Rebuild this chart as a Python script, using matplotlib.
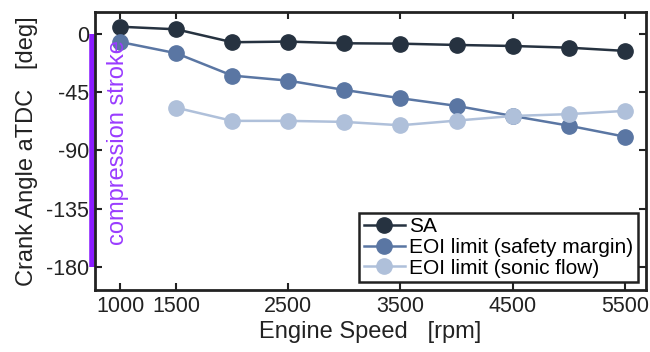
import matplotlib
matplotlib.use('Agg')
import matplotlib.pyplot as plt

plt.rcParams['font.family'] = ['Liberation Sans', 'DejaVu Sans']

speed = [1000, 1500, 2000, 2500, 3000, 3500, 4000, 4500, 5000, 5500]
sa = [5.6, 3.6, -6.4, -5.9, -7.2, -7.5, -8.5, -9.3, -10.6, -13.1]
eoi_safety = [-6.2, -14.9, -32.2, -36.1, -43.3, -49.7, -55.6, -63.4, -70.9, -79.4]
speed_sonic = [1500, 2000, 2500, 3000, 3500, 4000, 4500, 5000, 5500]
eoi_sonic = [-57, -67.2, -67.2, -68, -70.6, -67, -63.4, -62, -59.5]

xticks = [1000, 1500, 2500, 3500, 4500, 5500]
yticks = [0, -45, -90, -135, -180]

c_sa = '#263240'
c_safe = '#5a76a3'
c_sonic = '#afc0da'

fig = plt.figure(figsize=(6.5, 3.52), dpi=100)
ax = fig.add_axes([0.146, 0.176, 0.848, 0.79])

ax.plot(speed, sa, '-o', color=c_sa, lw=1.8, ms=11, label='SA')
ax.plot(speed, eoi_safety, '-o', color=c_safe, lw=1.8, ms=11, label='EOI limit (safety margin)')
ax.plot(speed_sonic, eoi_sonic, '-o', color=c_sonic, lw=1.8, ms=11, label='EOI limit (sonic flow)')

ax.set_xlim(775, 5690)
ax.set_ylim(-198, 17)

# compression stroke marker
ax.plot([750, 750], [0, -180], color='#8a1cff', lw=4, clip_on=False,
        solid_capstyle='butt', zorder=5)
ax.text(985, -84, 'compression stroke', rotation=90, color='#9a3cff',
        fontsize=17, ha='center', va='center')

ax.set_xticks(xticks)
ax.set_xticklabels([str(t) for t in xticks])
ax.set_yticks(yticks)
ax.set_yticklabels([str(t).replace('\u2212', '-') for t in yticks])
ax.tick_params(direction='in', top=True, right=True, labelsize=15.5, length=5, width=1.5,
               colors='#222222', labelcolor='#222222', pad=4)
for s in ax.spines.values():
    s.set_linewidth(2)
    s.set_color('#222222')
    s.set_zorder(6)

ax.set_xlabel('Engine Speed   [rpm]', fontsize=17, color='#222222', labelpad=3)
ax.set_ylabel('Crank Angle aTDC   [deg]', fontsize=17, color='#222222', labelpad=6)

leg = ax.legend(loc='lower right', fontsize=15, handlelength=2.0, handletextpad=0.2,
                borderpad=0.2, labelspacing=0.08, fancybox=False, framealpha=1,
                borderaxespad=0.4)
leg.get_frame().set_edgecolor('#222222')
leg.get_frame().set_linewidth(1.8)
leg.set_zorder(7)

fig.savefig('out.png', dpi=100)
